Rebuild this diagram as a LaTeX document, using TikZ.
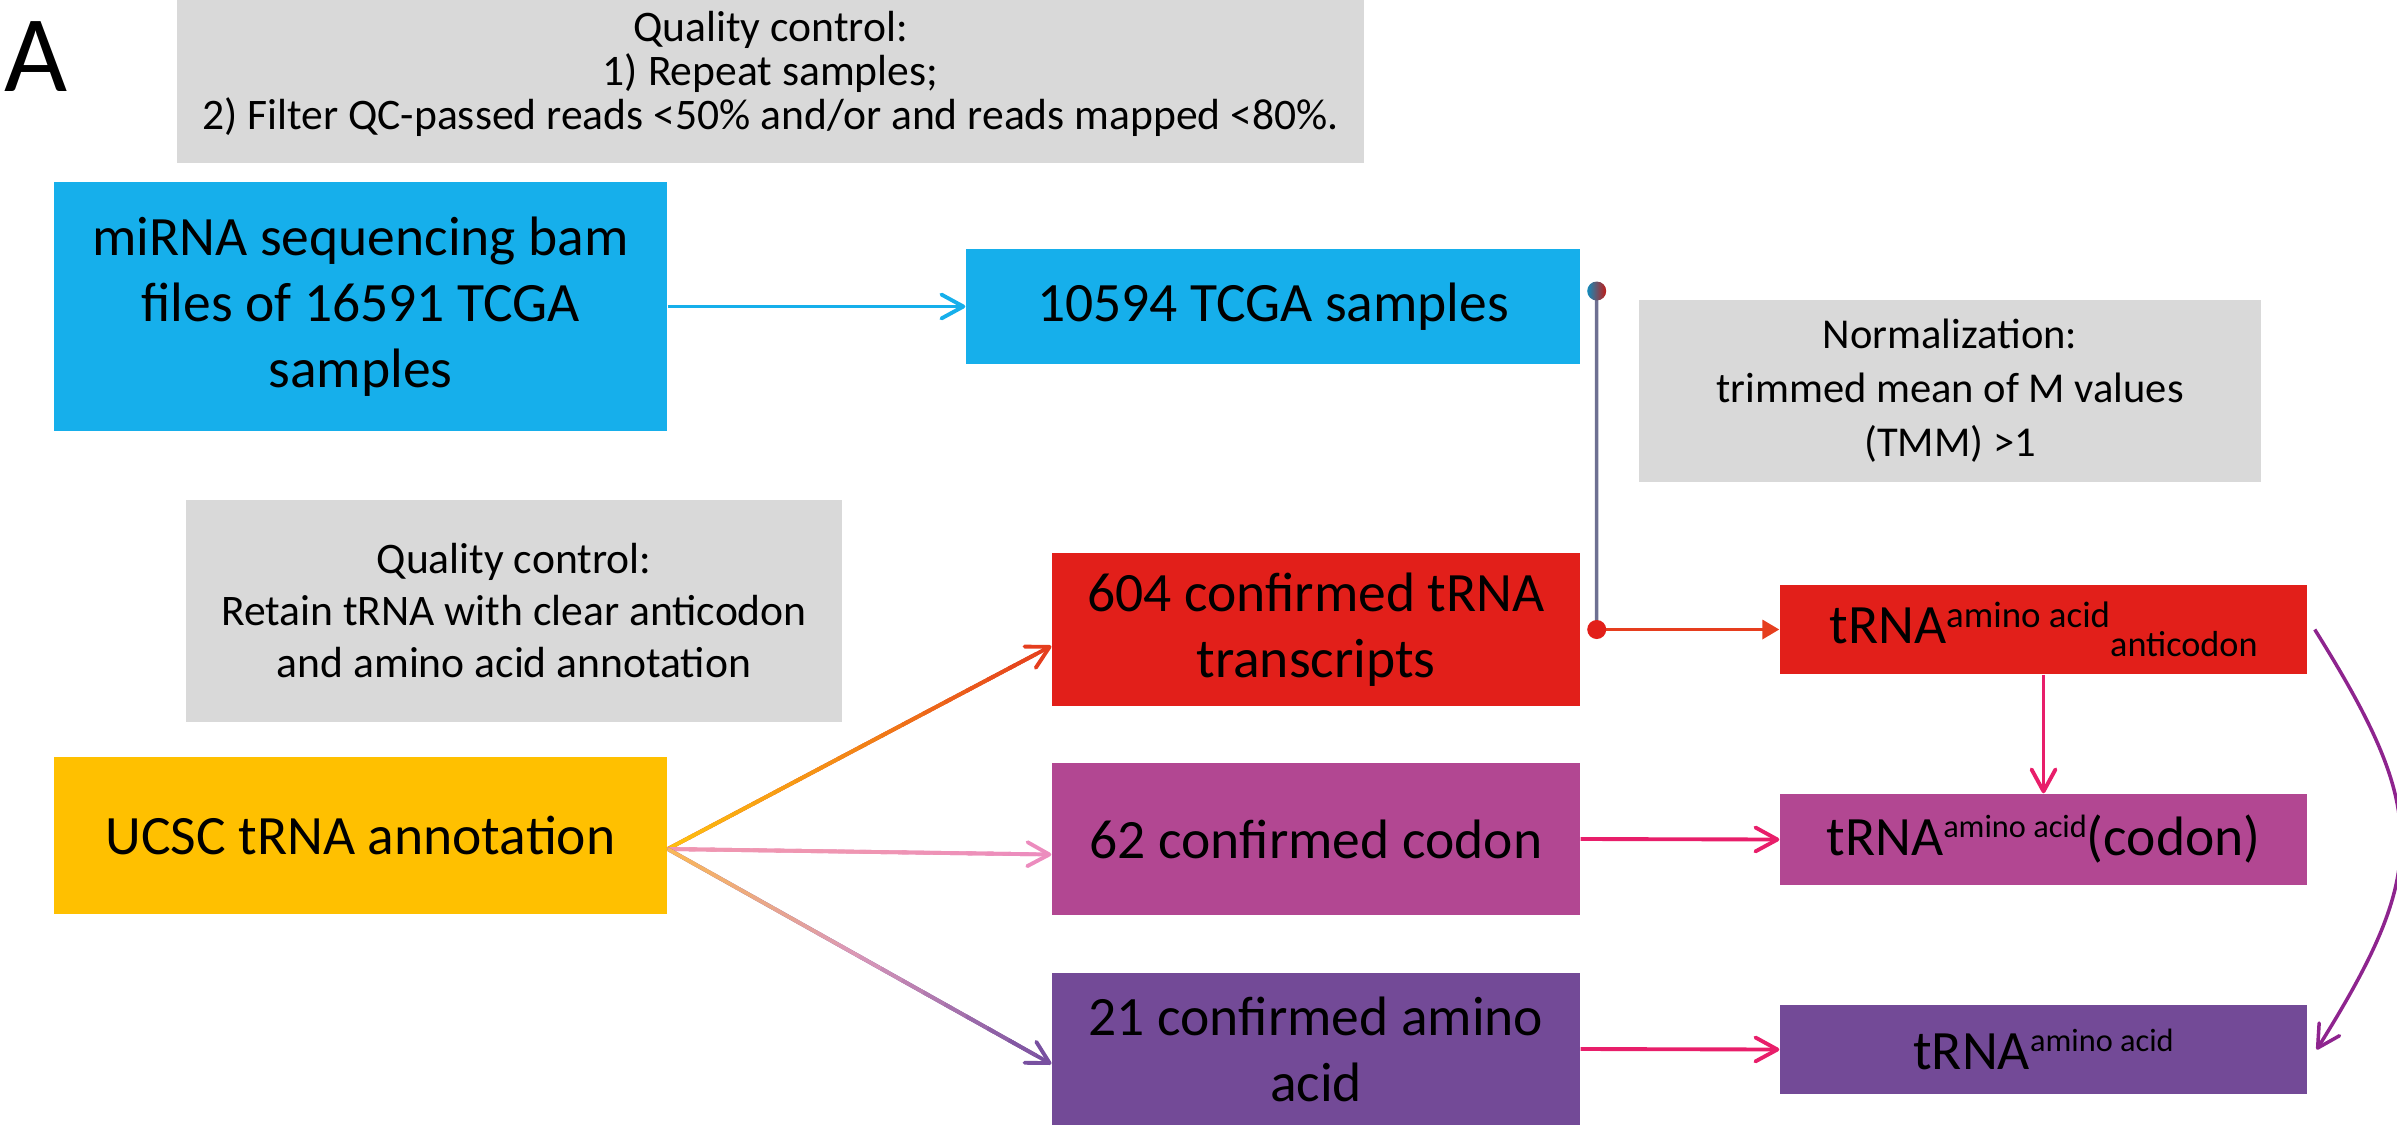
\documentclass[tikz,border=0pt]{standalone}
\usepackage{fontspec}
\setmainfont{Carlito}
\usetikzlibrary{arrows.meta,calc}
\definecolor{cblue}{RGB}{22,175,235}
\definecolor{cgrey}{RGB}{217,217,217}
\definecolor{cgold}{RGB}{255,192,0}
\definecolor{cred}{RGB}{226,31,26}
\definecolor{cmag}{RGB}{178,71,146}
\definecolor{cpurp}{RGB}{115,74,151}
\definecolor{cpink}{RGB}{232,30,106}
\definecolor{clink}{RGB}{110,112,146}
\definecolor{cplum}{RGB}{142,36,142}
\definecolor{corange}{RGB}{230,62,30}
\definecolor{gyel}{RGB}{253,190,16}
\definecolor{gorg}{RGB}{242,132,22}
\definecolor{gred}{RGB}{229,62,30}
\definecolor{grose}{RGB}{243,160,164}
\definecolor{gpink}{RGB}{236,140,190}
\definecolor{gpeach}{RGB}{249,182,90}
\definecolor{glilac}{RGB}{218,152,185}
\definecolor{gviol}{RGB}{120,80,160}
% raised or lowered small text
\newcommand\shifttext[3]{\raisebox{#1}{\fontsize{#2}{#2}\selectfont #3}}
% straight arrow whose colour runs #3 -> #4 -> #5
\newcommand\gradflow[5]{%
  \draw[flow, #5] (#1) -- (#2);
  \foreach \k in {0,...,16}{
    \ifnum\k<9
      \pgfmathtruncatemacro\pct{100-\k*100/8.5}\def\mixc{#3!\pct!#4}%
    \else
      \pgfmathtruncatemacro\pct{100-(\k-8.5)*100/8.5}\def\mixc{#4!\pct!#5}%
    \fi
    \draw[line width=1.1pt, color=\mixc] ($(#1)!{\k/18}!(#2)$) -- ($(#1)!{(\k+1.3)/18}!(#2)$);
  }
}

\begin{document}
\begin{tikzpicture}[
  box/.style={rectangle, inner sep=0pt, align=center, font=\fontsize{15.8}{18.8}\selectfont},
  note/.style={rectangle, fill=cgrey, inner sep=0pt, align=center, font=\fontsize{12.4}{14.8}\selectfont},
  flow/.style={line width=1.1pt, -{Straight Barb[length=2.2mm,width=2.4mm,round]}}
]
  \useasboundingbox (0,0) rectangle (23.97,-11.26);
  \node[anchor=base west, inner sep=0pt, font=\fontsize{31}{31}\selectfont] (panel) at (0.04,-0.92) {A};
  % --- quality control notes
  \node[note, minimum width=11.87cm, minimum height=1.79cm, font=\fontsize{12.4}{12.5}\selectfont] (qca) at (7.705,-0.735)
    {Quality control:\\1) Repeat samples;\\2) Filter QC-passed reads <50\% and/or and reads mapped <80\%.};
  \node[note, minimum width=6.56cm, minimum height=2.22cm] (qcb) at (5.14,-6.11)
    {Quality control:\\Retain tRNA with clear anticodon\\and amino acid annotation};
  \node[note, minimum width=6.22cm, minimum height=1.82cm, font=\fontsize{12.1}{15.4}\selectfont] (norm) at (19.5,-3.91)
    {Normalization:\\trimmed mean of M values\\(TMM) >1};
  % --- left column
  \node[box, fill=cblue, minimum width=6.13cm, minimum height=2.49cm] (mirna) at (3.605,-3.065)
    {miRNA sequencing bam\\files of 16591 TCGA\\samples};
  \node[box, fill=cgold, minimum width=6.13cm, minimum height=1.57cm] (ucsc) at (3.605,-8.355) {UCSC tRNA annotation};
  % --- middle column
  \node[box, fill=cblue, minimum width=6.14cm, minimum height=1.15cm] (tcga) at (12.73,-3.065) {10594 TCGA samples};
  \node[box, fill=cred, minimum width=5.28cm, minimum height=1.53cm] (c604) at (13.16,-6.295)
    {604 confirmed tRNA\\transcripts};
  \node[box, fill=cmag, minimum width=5.28cm, minimum height=1.52cm] (c62) at (13.16,-8.39) {62 confirmed codon};
  \node[box, fill=cpurp, minimum width=5.28cm, minimum height=1.52cm] (c21) at (13.16,-10.49)
    {21 confirmed amino\\acid};
  % --- right column
  \node[box, fill=cred, minimum width=5.27cm, minimum height=0.89cm] (ac) at (20.435,-6.295)
    {tRNA\shifttext{1.6mm}{10.5}{amino acid}\shifttext{-1.3mm}{10.3}{anticodon}};
  \node[box, fill=cmag, minimum width=5.27cm, minimum height=0.91cm] (cod) at (20.435,-8.395)
    {tRNA\shifttext{1.8mm}{9.2}{amino acid}(codon)};
  \node[box, fill=cpurp, minimum width=5.27cm, minimum height=0.89cm] (aa) at (20.435,-10.495)
    {tRNA\shifttext{1.8mm}{9.2}{amino acid}};
  % --- connectors
  \draw[flow, cblue] (mirna.east) -- (tcga.west);
  \coordinate (fan) at ([yshift=-1.35mm]ucsc.east);
  \coordinate (in604) at ([yshift=-1.65mm]c604.west);
  \coordinate (in62) at ([yshift=-1.55mm]c62.west);
  \coordinate (in21) at ([yshift=-1.5mm]c21.west);
  \gradflow{fan}{in604}{gyel}{gorg}{gred}
  \gradflow{fan}{in62}{grose}{grose!50!gpink}{gpink}
  \gradflow{fan}{in21}{gpeach}{glilac}{gviol}
  \coordinate (jt) at ([xshift=1.6mm,yshift=1.55mm]tcga.east);
  \coordinate (jb) at ([xshift=1.6mm]c604.east);
  \draw[clink, line width=1pt] (jt) -- (jb);
  \shade[left color=cblue!80!black, right color=cred!85!black] (jt) circle (0.95mm);
  \draw[corange, line width=1pt, -{Triangle[length=1.7mm,width=1.9mm]}] (jb) -- (ac.west);
  \fill[cred] (jb) circle (0.95mm);
  \draw[flow, cpink] (ac.south) -- (cod.north);
  \draw[flow, cpink] (c62.east) -- (cod.west);
  \draw[flow, cpink] (c21.east) -- (aa.west);
  \draw[flow, cplum, line width=1pt] ([xshift=0.7mm]ac.east) to[out=-58,in=58,looseness=1.3] ([xshift=0.9mm]aa.east);
\end{tikzpicture}
\end{document}
